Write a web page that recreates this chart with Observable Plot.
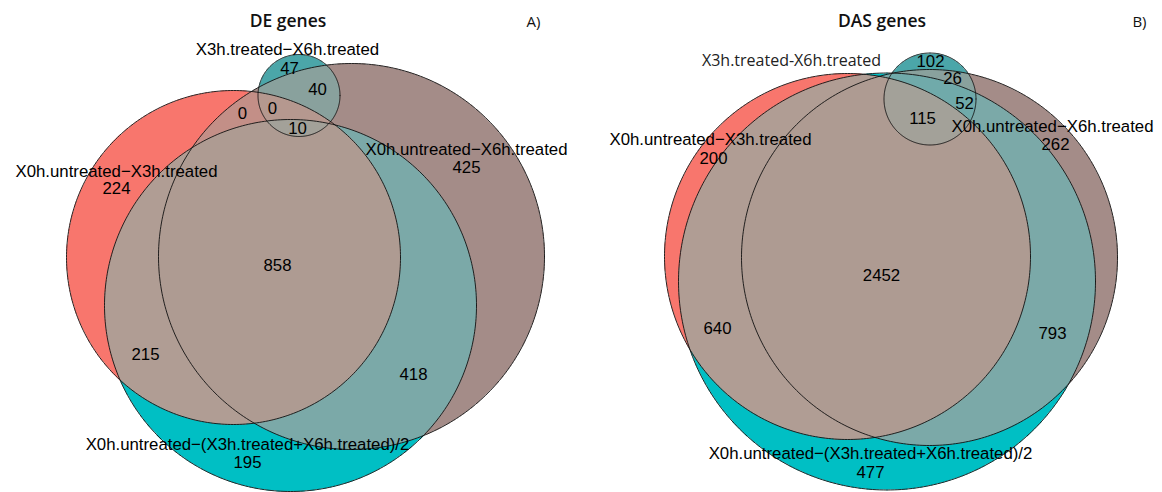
<!DOCTYPE html>
<html><head><meta charset="utf-8">
<script src="https://cdn.jsdelivr.net/npm/d3@7"></script>
<script src="https://cdn.jsdelivr.net/npm/@observablehq/plot@0.6"></script>
<style>
body{margin:0;background:#fff}
#chart{display:flex;width:1162px;height:492px}
</style>
</head><body><div id="chart"></div>
<script>
// ---- data ----
const panelTitles = ["DE genes", "DAS genes"];
const panelTags = ["A)", "B)"];
const setNamesA = ["X0h.untreated−X3h.treated", "X0h.untreated−X6h.treated", "X0h.untreated−(X3h.treated+X6h.treated)/2", "X3h.treated−X6h.treated"];
const setNamesB = ["X0h.untreated−X3h.treated", "X0h.untreated−X6h.treated", "X0h.untreated−(X3h.treated+X6h.treated)/2", "X3h.treated-X6h.treated"];
// regions as membership masks: 1=X0h-X3h, 2=X0h-X6h, 4=X0h-avg, 8=X3h-X6h
const regionsA = [8, 10, 3, 11, 15, 1, 2, 7, 5, 6, 4];
const countsA  = [47, 40, 0, 0, 10, 224, 425, 858, 215, 418, 195];
const regionsB = [8, 10, 14, 15, 1, 2, 7, 5, 6, 4];
const countsB  = [102, 26, 52, 115, 200, 262, 2452, 640, 793, 477];
const regionMasks  = [1, 2, 4, 8, 3, 5, 6, 7, 10, 11, 14, 15];
const regionColors = ["#F8766D", "#A48C88", "#00BFC4", "#4BA6A9", "#C38F87", "#B09D94", "#7BA9A8", "#AE9B92", "#89A19D", "#B5988F", "#70AAAA", "#A3A199"];

// ---- layout (venn coordinates) ----
const layout = {
  A: {
    cx: [233, 351, 290, 298.5], cy: [257, 256, 305, 95], r: [167, 193, 186, 41],
    countX: [289, 317, 242, 272, 297, 116, 466, 277, 145, 413, 247],
    countY: [68, 89, 113, 108, 128, 188, 167, 265, 354, 374, 462],
    nameX: [116, 466, 247, 287], nameY: [171, 149, 444, 49],
    titleDx: -3, tagDx: -41
  },
  B: {
    cx: [266, 348, 305.5, 348.5], cy: [256, 257, 281, 98.5], r: [183, 188, 208.5, 46],
    countX: [349, 371, 383, 341, 132, 474, 300, 136, 471, 289],
    countY: [61, 78, 103, 118, 158, 144, 275, 328, 333, 472],
    nameX: [129, 471, 289, 210], nameY: [139, 126, 453, 60],
    titleDx: 10, tagDx: -16
  }
};

const W = 581, H = 492;
const colorOf = new Map(regionMasks.map((m, i) => [m, regionColors[i]]));

function panel(key, idx, names, regions, counts) {
  const L = layout[key];
  const circles = L.cx.map((x, i) => ({x, y: L.cy[i], r: L.r[i]}));
  const fill = (x, y) => {
    let m = 0;
    circles.forEach((c, i) => { if ((x - c.x) ** 2 + (y - c.y) ** 2 <= c.r * c.r) m |= 1 << i; });
    if (!m) return "white";
    return colorOf.get(m) || "#A3A199";
  };
  const outline = circles.flatMap((c, i) => d3.range(0, 361, 1).map(a => ({
    id: i, x: c.x + c.r * Math.cos(a * Math.PI / 180), y: c.y + c.r * Math.sin(a * Math.PI / 180)
  })));
  const nameRows = names.map((n, i) => ({text: n, x: L.nameX[i], y: L.nameY[i], top: i === 3 && key === "B"}));
  const countRows = counts.map((v, i) => ({text: String(v), x: L.countX[i], y: L.countY[i]}));
  return Plot.plot({
    width: W, height: H, margin: 0,
    style: {background: "white"},
    x: {domain: [0, W], range: [0, W], axis: null},
    y: {domain: [0, H], range: [0, H], axis: null},
    color: {type: "identity"},
    marks: [
      Plot.raster({x1: 0, y1: 0, x2: W, y2: H, fill, pixelSize: 1}),
      Plot.line(outline, {x: "x", y: "y", z: "id", stroke: "#111", strokeWidth: 0.9}),
      Plot.text(nameRows.filter(d => !d.top), {x: "x", y: "y", text: "text", fontSize: 16.8, fontFamily: "Liberation Sans, Arial, sans-serif", fill: "#000"}),
      Plot.text(nameRows.filter(d => d.top), {x: "x", y: "y", text: "text", fontSize: 16, fontFamily: "Open Sans, sans-serif", fill: "#222"}),
      Plot.text(countRows, {x: "x", y: "y", text: "text", fontSize: 16.8, fontFamily: "Liberation Sans, Arial, sans-serif", fill: "#000"}),
      Plot.text([panelTitles[idx]], {frameAnchor: "top", dy: 21, dx: L.titleDx, lineAnchor: "middle", fontSize: 17.5, fontWeight: 600, fontFamily: "Open Sans, sans-serif", fill: "#111"}),
      Plot.text([panelTags[idx]], {frameAnchor: "top-right", textAnchor: "end", dy: 22, dx: L.tagDx, lineAnchor: "middle", fontSize: 15, fontFamily: "Open Sans, sans-serif", fill: "#111"})
    ]
  });
}

const root = document.getElementById("chart");
root.append(panel("A", 0, setNamesA, regionsA, countsA));
root.append(panel("B", 1, setNamesB, regionsB, countsB));
</script>
</body></html>
